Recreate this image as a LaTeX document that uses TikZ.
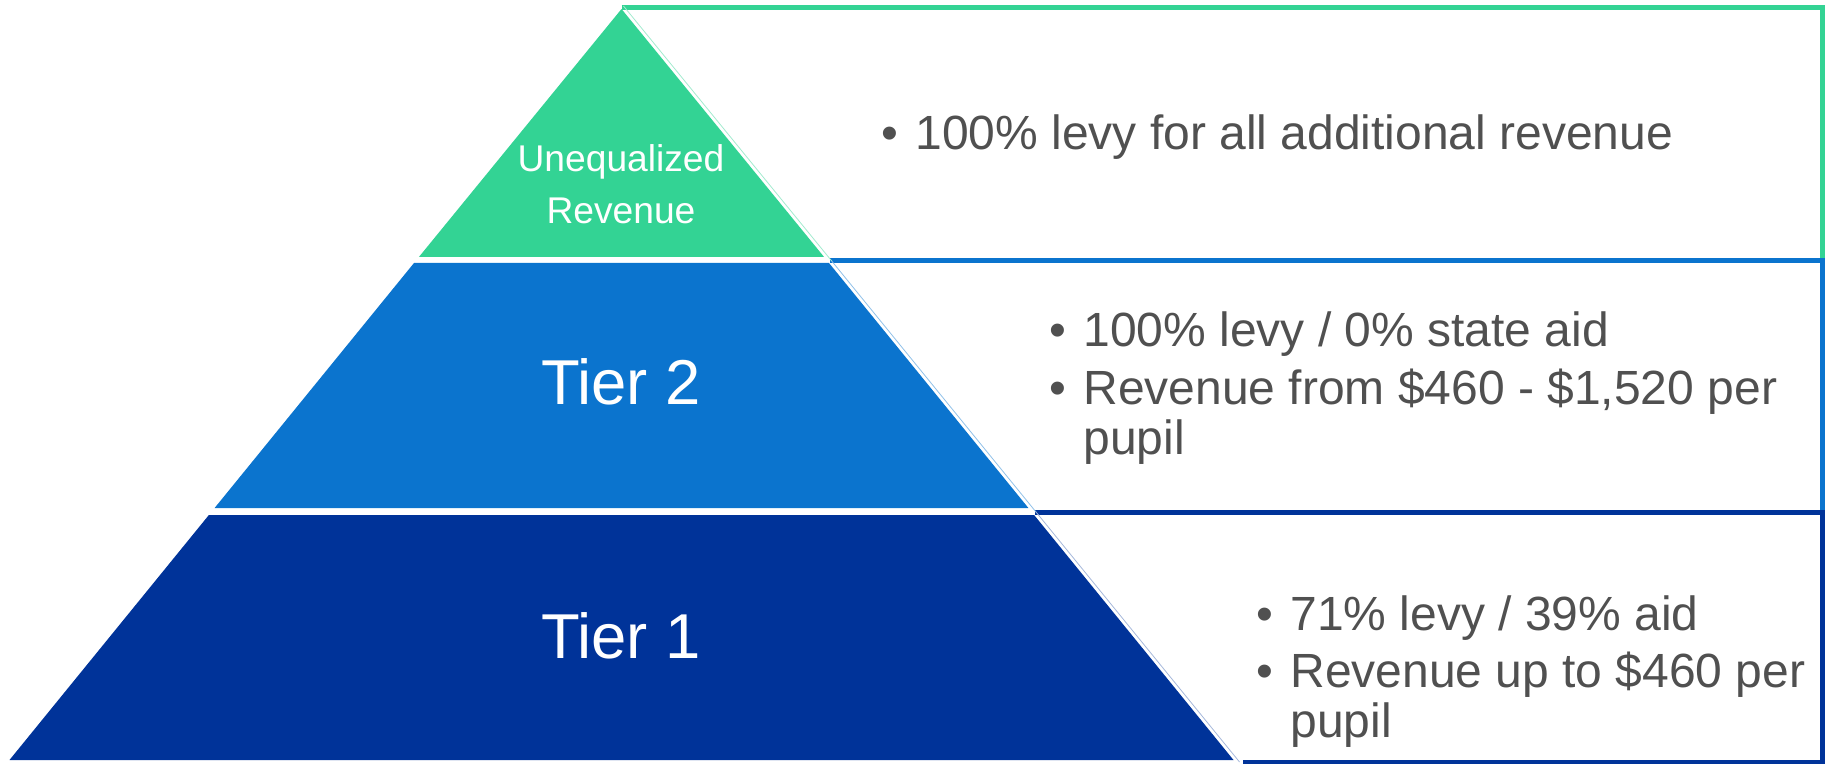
\documentclass[tikz,border=0pt]{standalone}
\usepackage{fontspec}
\setmainfont{Liberation Sans}
\definecolor{tgreen}{RGB}{51,211,148}
\definecolor{tblue}{RGB}{11,116,206}
\definecolor{tdark}{RGB}{0,51,153}
\definecolor{tgray}{RGB}{80,80,80}
\newcommand{\bul}{\llap{\textbullet\hspace{8.7pt}}}
\begin{document}
\begin{tikzpicture}[x=0.5pt,y=-0.5pt,
  bodytext/.style={font=\fontsize{24}{28}\selectfont, text=tgray, anchor=base west, inner sep=0pt},
  tiertext/.style={text=white, anchor=base, inner sep=0pt},
  bigtier/.style={tiertext, font=\fontsize{31.7}{34}\selectfont},
  smalltier/.style={tiertext, font=\fontsize{18.6}{20}\selectfont},
  framepath/.style={line width=2.5pt, line join=miter},
  slantline/.style={line width=0.4pt}
]
\useasboundingbox (0,0) rectangle (1831,764);
% frames
\draw[framepath, tgreen] (621.5,7.5) -- (1822.5,7.5) -- (1822.5,261);
\draw[framepath, tblue] (830,261) -- (1822.5,261) -- (1822.5,512);
\draw[framepath, tdark] (1035,512) -- (1822.5,512) -- (1822.5,762.5) -- (1243,762.5);
% thin slanted edges
\draw[slantline, tgreen!45] (623.5,6) -- (831.7,261);
\draw[slantline, tblue!45] (831.7,261) -- (1036,512);
\draw[slantline, tdark!35] (1036,512) -- (1239.5,762);
% pyramid
\fill[tgreen] (621.5,9) -- (824.1,257) -- (418.9,257) -- cycle;
\fill[tblue] (414,263) -- (829,263) -- (1028.4,508) -- (214.6,508) -- cycle;
\fill[tdark] (208.9,515) -- (1034.1,515) -- (1233.5,760) -- (9.5,760) -- cycle;
% tier labels
\node[smalltier] (unqa) at (621,171.7) {Unequalized};
\node[smalltier] (unqb) at (621,224) {Revenue};
\node[bigtier] (tiertwo) at (621,405) {Tier 2};
\node[bigtier] (tierone) at (621,658) {Tier 1};
% descriptions
\node[bodytext] (da) at (915,149.3) {\bul 100\% levy for all additional revenue};
\node[bodytext] (db) at (1083,347) {\bul 100\% levy / 0\% state aid};
\node[bodytext] (dc) at (1083,405) {\bul Revenue from \$460 - \$1,520 per};
\node[bodytext] (dd) at (1083,455) {pupil};
\node[bodytext] (de) at (1290,630) {\bul 71\% levy / 39\% aid};
\node[bodytext] (df) at (1290,687) {\bul Revenue up to \$460 per};
\node[bodytext] (dg) at (1290,737) {pupil};
\end{tikzpicture}
\end{document}
